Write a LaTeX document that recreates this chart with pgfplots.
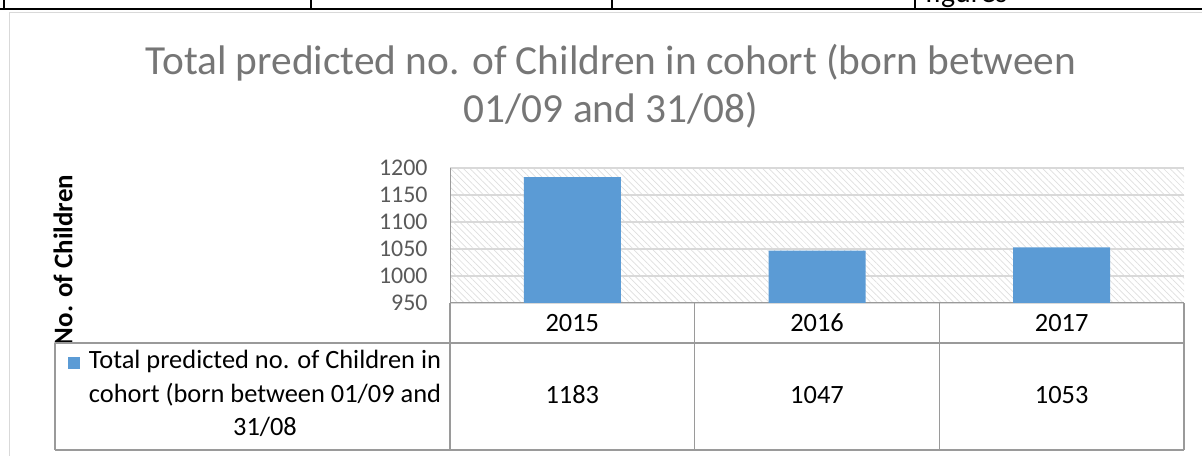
\documentclass[border=0pt]{standalone}
\usepackage{fontspec}
\setmainfont{Carlito}
\usepackage{pgfplots}
\pgfplotsset{compat=1.18}
\usetikzlibrary{patterns.meta}
\definecolor{barblue}{HTML}{5B9BD5}
\definecolor{tickgray}{HTML}{595959}
\definecolor{titlegray}{HTML}{767676}
\definecolor{gridgray}{HTML}{D9D9D9}
\definecolor{tblgray}{HTML}{9A9A9A}
\definecolor{framegray}{HTML}{D9D9D9}
\begin{document}
\begin{tikzpicture}[x=1bp,y=1bp]
\useasboundingbox (0,0) rectangle (1202,456);
\clip (0,0) rectangle (1202,456);
% document table remnants at top
\draw[line width=1.6bp] (0,447) -- (1202,447);
\foreach \xx in {4,311,612,915} \draw[line width=1.6bp] (\xx,458) -- (\xx,447);
\node[anchor=base west, inner sep=0, font=\fontsize{30}{34}\selectfont] at (925,453) {figures};
% chart frame
\draw[framegray, line width=1.2bp] (9.5,0) -- (9.5,443.5) -- (1202,443.5);
% title
\node[anchor=base, inner sep=0, text=titlegray, font=\fontsize{41.5}{48}\selectfont] at (611,381) {Total predicted no. of Children in cohort (born between};
\node[anchor=base, inner sep=0, text=titlegray, font=\fontsize{41.5}{48}\selectfont] at (611,333) {01/09 and 31/08)};
% y label
\node[rotate=90, font=\bfseries\fontsize{27}{30}\selectfont, inner sep=0] at (63,196) {No. of Children};
\begin{axis}[
  at={(450bp,153bp)}, anchor=south west,
  width=734bp, height=135bp, scale only axis,
  xmin=-0.5, xmax=2.5, ymin=950, ymax=1200,
  ytick={950,1000,...,1200},
  xtick={0,1,2}, xticklabels={2015,2016,2017},
  /pgf/number format/assume math mode=true,
  /pgf/number format/1000 sep={},
  major tick length=0,
  ymajorgrids, grid style={gridgray, line width=1.4bp},
  axis x line*=bottom, axis y line*=left,
  axis line style={tblgray, line width=1bp},
  x axis line style={-}, y axis line style={-},
  yticklabel style={text=tickgray, font=\fontsize{24}{27}\selectfont, anchor=east, xshift=-19bp},
  xticklabel style={text=black, font=\fontsize{26.5}{30}\selectfont, anchor=center, yshift=-20bp},
  axis background/.style={pattern={Lines[angle=-45,distance=4.5bp,line width=0.7bp]}, pattern color=black!13},
  ybar, bar width=97bp,
  clip=false,
]
\addplot[fill=barblue, draw=none] coordinates {(0,1183) (1,1047) (2,1053)};
\end{axis}
% data table
\begin{scope}[tblgray, line width=1.2bp]
\draw (55,113) -- (1184,113);
\draw (55,6) -- (1184,6);
\draw (55,6) -- (55,113);
\draw (450,6) -- (450,153);
\draw (694.7,6) -- (694.7,153);
\draw (939.3,6) -- (939.3,153);
\draw (1184,6) -- (1184,153);
\end{scope}
\foreach \xx/\vv in {572.3/1183, 817/1047, 1061.7/1053}
  \node[font=\fontsize{26.5}{30}\selectfont] at (\xx,61) {\vv};
\fill[barblue] (68,87) rectangle (80,99);
\node[anchor=base, inner sep=0, font=\fontsize{26.5}{30}\selectfont] at (265,87) {Total predicted no. of Children in};
\node[anchor=base, inner sep=0, font=\fontsize{26.5}{30}\selectfont] at (265,53) {cohort (born between 01/09 and};
\node[anchor=base, inner sep=0, font=\fontsize{26.5}{30}\selectfont] at (265,20) {31/08};
\end{tikzpicture}
\end{document}
